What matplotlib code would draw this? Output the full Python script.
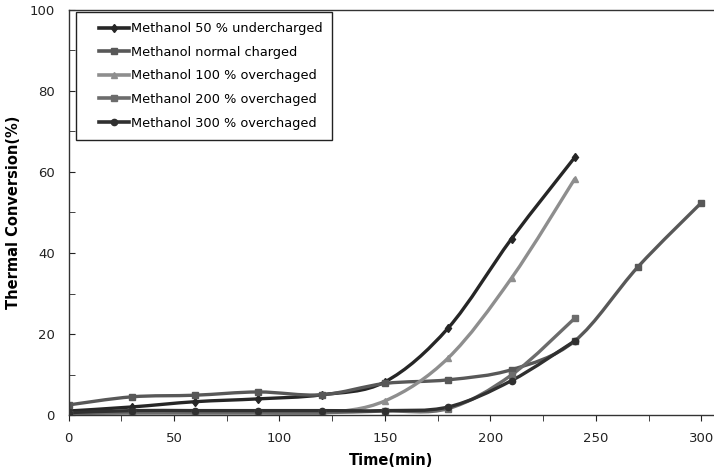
import numpy as np
import matplotlib
matplotlib.use("Agg")
import matplotlib.pyplot as plt
from matplotlib.path import Path
from matplotlib.patches import PathPatch
from matplotlib.lines import Line2D
from matplotlib.legend_handler import HandlerLine2D

# sampling times (min)
time_240 = [0, 30, 60, 90, 120, 150, 180, 210, 240]
time_300 = [0, 30, 60, 90, 120, 150, 180, 210, 240, 270, 300]

# thermal conversion (%)
under_50 = [1.0, 2.0, 3.3, 4.0, 5.0, 8.2, 21.5, 43.5, 63.6]
normal = [2.5, 4.5, 4.9, 5.7, 5.0, 7.8, 8.7, 11.2, 18.3, 36.6, 52.4]
over_100 = [0.5, 0.5, 0.5, 0.5, 0.5, 3.5, 14.1, 33.8, 58.3]
over_200 = [0.3, 0.6, 0.6, 0.6, 0.6, 1.0, 1.6, 9.9, 23.9]
over_300 = [0.6, 1.1, 1.1, 1.1, 1.1, 1.1, 2.0, 8.5, 18.3]

labels = ["Methanol 50 % undercharged", "Methanol normal charged",
          "Methanol 100 % overchaged", "Methanol 200 % overchaged",
          "Methanol 300 % overchaged"]
colors = ["#262626", "#585858", "#8e8e8e", "#6c6c6c", "#303030"]
markers = ["d", "s", "^", "s", "o"]


def smooth_path(x, y, t=1 / 6):
    # smoothed line through the points, built from cubic bezier segments
    x = np.asarray(x, float)
    y = np.asarray(y, float)
    pts = np.column_stack([x, y])
    verts = [pts[0]]
    codes = [Path.MOVETO]
    n = len(pts)
    for i in range(n - 1):
        p0 = pts[i - 1] if i > 0 else pts[i]
        p1 = pts[i]
        p2 = pts[i + 1]
        p3 = pts[i + 2] if i + 2 < n else pts[i + 1]
        c1 = p1 + (p2 - p0) * t
        c2 = p2 - (p3 - p1) * t
        verts += [c1, c2, p2]
        codes += [Path.CURVE4] * 3
    return Path(verts, codes)


class IndentedLine(HandlerLine2D):
    # legend line drawn only in the right part of the handle box
    def create_artists(self, legend, orig_handle, xdescent, ydescent,
                       width, height, fontsize, trans):
        shift = width * 0.30
        return super().create_artists(legend, orig_handle, xdescent - shift,
                                      ydescent, width - shift, height,
                                      fontsize, trans)


fig = plt.figure(figsize=(7.14, 4.69), dpi=100)
ax = fig.add_axes([0.096, 0.115, 0.904, 0.864])

series = [(time_240, under_50), (time_300, normal), (time_240, over_100),
          (time_240, over_200), (time_240, over_300)]
handles = []
for (tx, vals), lab, col, mk in zip(series, labels, colors, markers):
    patch = PathPatch(smooth_path(tx, vals), facecolor="none", edgecolor=col,
                      lw=2.4, capstyle="round", joinstyle="round")
    ax.add_patch(patch)
    ax.plot(tx, vals, ls="none", marker=mk, ms=4.5, color=col)
    handles.append(Line2D([], [], color=col, lw=2.6, marker=mk, ms=4.5))

ax.set_xlim(0, 306)
ax.set_ylim(0, 100)
ax.set_xticks([0, 50, 100, 150, 200, 250, 300])
ax.set_xticks(np.arange(25, 300, 50), minor=True)
ax.set_yticks([0, 20, 40, 60, 80, 100])
ax.set_yticks(np.arange(10, 100, 20), minor=True)
ax.tick_params(axis="x", which="both", direction="out", length=4, pad=8,
               labelsize=9.5, colors="#222222")
ax.tick_params(axis="y", which="both", direction="in", length=4, pad=10,
               labelsize=9.5, colors="#222222")
ax.spines["right"].set_visible(False)
for s in ["left", "bottom", "top"]:
    ax.spines[s].set_color("#333333")
    ax.spines[s].set_linewidth(1.0)

ax.set_xlabel("Time(min)", fontsize=10.5, fontweight="bold", labelpad=6)
ax.set_ylabel("Thermal Conversion(%)", fontsize=10.5, fontweight="bold", labelpad=6)

leg = ax.legend(handles, labels, loc="upper left", bbox_to_anchor=(0.012, 0.995),
                fontsize=9.3, handlelength=3.3, handletextpad=0.1,
                labelspacing=0.82, borderpad=0.8, borderaxespad=0,
                fancybox=False, framealpha=1,
                handler_map={Line2D: IndentedLine()})
leg.get_frame().set_edgecolor("#222222")
leg.get_frame().set_linewidth(1.0)

fig.savefig("out.png", dpi=100)
